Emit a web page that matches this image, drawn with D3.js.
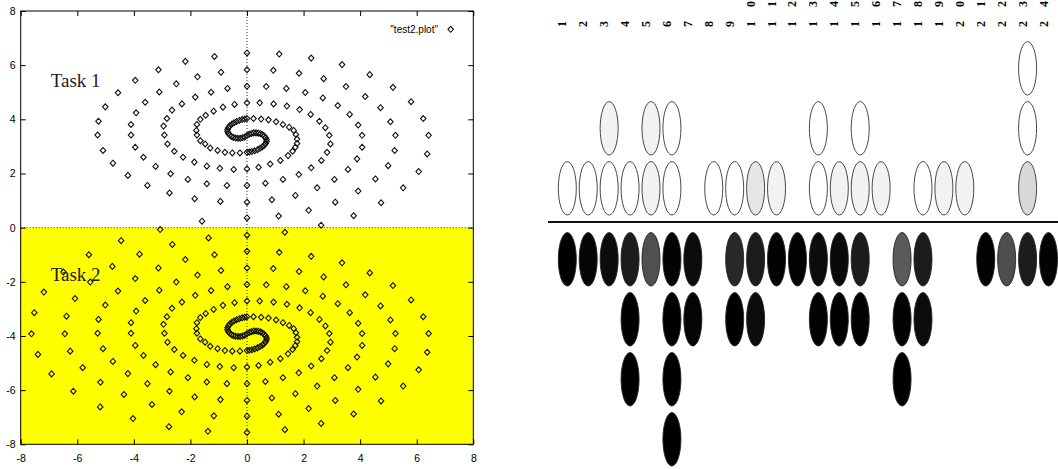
<!DOCTYPE html>
<html>
<head>
<meta charset="utf-8">
<script src="https://cdn.jsdelivr.net/npm/d3@7"></script>
<style>
  body { margin: 0; background: #fff; }
  svg { display: block; }
</style>
</head>
<body>
<script>
/* global d3 */
(function () {
  'use strict'

  // Points of the upper spiral (white half)
  var task1 = [
    [0, 3.40], [-0.08, 3.35], [-0.16, 3.32], [-0.24, 3.30], [-0.32, 3.30], [-0.40, 3.31], [-0.48, 3.33], [-0.55, 3.37], [-0.61, 3.42], [-0.66, 3.48],
    [-0.69, 3.55], [-0.69, 3.62], [-0.66, 3.69], [-0.61, 3.76], [-0.54, 3.82], [-0.46, 3.87], [-0.37, 3.92], [-0.27, 3.96], [-0.17, 3.99], [-0.08, 4.01],
    [0.08, 3.45], [0.16, 3.48], [0.24, 3.50], [0.32, 3.50], [0.40, 3.49], [0.48, 3.47], [0.55, 3.43], [0.61, 3.38], [0.66, 3.32], [0.69, 3.25],
    [0.69, 3.18], [0.66, 3.11], [0.61, 3.04], [0.54, 2.98], [0.46, 2.93], [0.37, 2.88], [0.27, 2.84], [0.17, 2.81], [0.08, 2.79],
    [0, 4.03], [0.23, 4.03], [0.50, 4.01], [0.76, 3.98], [1.03, 3.91], [1.27, 3.81], [1.49, 3.71], [1.65, 3.59], [1.73, 3.44], [1.77, 3.27],
    [1.77, 3.11], [1.71, 2.97], [1.61, 2.82], [1.45, 2.66], [1.18, 2.48], [0.82, 2.35], [0.41, 2.23], [0, 2.17], [-0.47, 2.15], [-0.96, 2.19],
    [-1.42, 2.27], [-1.86, 2.42], [-2.26, 2.60], [-2.57, 2.82], [-2.81, 3.09], [-2.92, 3.42], [-2.95, 3.75], [-2.83, 4.03], [-2.65, 4.34], [-2.30, 4.57],
    [-1.83, 4.82], [-1.27, 5.00], [-0.69, 5.14], [0, 5.22], [0.68, 5.21], [1.39, 5.14], [2.06, 4.99], [2.68, 4.79], [3.21, 4.51], [3.63, 4.18],
    [3.93, 3.79], [4.07, 3.41], [4.07, 2.97], [3.89, 2.54], [3.57, 2.15], [3.09, 1.78], [2.48, 1.47], [1.71, 1.19], [0.88, 1.03], [0, 0.94],
    [-0.94, 0.97], [-1.85, 1.07], [-2.74, 1.28], [-3.52, 1.56], [-4.21, 1.93], [-4.74, 2.38], [-5.09, 2.85], [-5.28, 3.42], [-5.25, 3.93], [-5.01, 4.46],
    [-4.56, 4.98], [-3.95, 5.44], [-3.13, 5.83], [-2.18, 6.14], [-1.15, 6.32], [0, 6.45], [1.14, 6.41], [2.27, 6.26], [3.36, 6.02], [4.34, 5.65],
    [5.16, 5.18], [5.80, 4.65], [6.23, 4.03], [6.42, 3.41], [6.37, 2.72], [6.07, 2.07], [5.52, 1.47], [4.74, 0.92], [3.77, 0.44], [2.62, 0.09],
    [0, 2.78], [-0.25, 2.76], [-0.52, 2.76], [-0.78, 2.78], [-1.04, 2.85], [-1.30, 2.94], [-1.48, 3.09], [-1.65, 3.21], [-1.77, 3.42], [-1.79, 3.59],
    [-1.77, 3.81], [-1.65, 4.00], [-1.46, 4.15], [-1.18, 4.30], [-0.85, 4.45], [-0.44, 4.55], [0, 4.61], [0.45, 4.61], [0.94, 4.57], [1.41, 4.49],
    [1.86, 4.36], [2.25, 4.18], [2.56, 3.93], [2.77, 3.69], [2.91, 3.41], [2.95, 3.09], [2.83, 2.78], [2.63, 2.48], [2.27, 2.21], [1.83, 1.96],
    [1.27, 1.78], [0.65, 1.64], [0, 1.56], [-0.71, 1.56], [-1.42, 1.62], [-2.09, 1.78], [-2.70, 1.99], [-3.23, 2.26], [-3.66, 2.60], [-3.95, 2.97],
    [-4.10, 3.42], [-4.10, 3.81], [-3.92, 4.24], [-3.60, 4.63], [-3.10, 5.01], [-2.50, 5.31], [-1.75, 5.57], [-0.92, 5.74], [0, 5.83], [0.93, 5.81],
    [1.84, 5.70], [2.71, 5.50], [3.50, 5.21], [4.18, 4.84], [4.72, 4.43], [5.07, 3.91], [5.25, 3.41], [5.22, 2.85], [4.99, 2.29], [4.54, 1.80],
    [3.93, 1.35], [3.12, 0.94], [2.18, 0.64], [1.12, 0.43], [0, 0.36]
  ]

  // Points of the lower spiral (yellow half)
  var task2 = [
    [0, -3.92], [-0.08, -3.97], [-0.16, -4.00], [-0.24, -4.02], [-0.32, -4.02], [-0.40, -4.01], [-0.48, -3.99], [-0.55, -3.95], [-0.61, -3.90], [-0.66, -3.84],
    [-0.69, -3.77], [-0.69, -3.70], [-0.66, -3.63], [-0.61, -3.56], [-0.54, -3.50], [-0.46, -3.45], [-0.37, -3.40], [-0.27, -3.36], [-0.17, -3.33], [-0.08, -3.31],
    [0.08, -3.87], [0.16, -3.84], [0.24, -3.82], [0.32, -3.82], [0.40, -3.83], [0.48, -3.85], [0.55, -3.89], [0.61, -3.94], [0.66, -4.00], [0.69, -4.07],
    [0.69, -4.14], [0.66, -4.21], [0.61, -4.28], [0.54, -4.34], [0.46, -4.39], [0.37, -4.44], [0.27, -4.48], [0.17, -4.51], [0.08, -4.53],
    [0, -3.29], [0.23, -3.29], [0.50, -3.31], [0.76, -3.34], [1.03, -3.41], [1.27, -3.51], [1.49, -3.61], [1.65, -3.73], [1.73, -3.88], [1.77, -4.05],
    [1.77, -4.21], [1.71, -4.35], [1.61, -4.50], [1.45, -4.66], [1.18, -4.84], [0.82, -4.97], [0.41, -5.09], [0, -5.15], [-0.47, -5.17], [-0.96, -5.13],
    [-1.42, -5.05], [-1.86, -4.90], [-2.26, -4.72], [-2.57, -4.50], [-2.81, -4.23], [-2.92, -3.90], [-2.95, -3.57], [-2.83, -3.29], [-2.65, -2.98], [-2.30, -2.75],
    [-1.83, -2.50], [-1.27, -2.32], [-0.69, -2.18], [0, -2.10], [0.68, -2.11], [1.39, -2.18], [2.06, -2.33], [2.68, -2.53], [3.21, -2.81], [3.63, -3.14],
    [3.93, -3.53], [4.07, -3.91], [4.07, -4.35], [3.89, -4.78], [3.57, -5.17], [3.09, -5.54], [2.48, -5.85], [1.71, -6.13], [0.88, -6.29], [0, -6.38],
    [-0.94, -6.35], [-1.85, -6.25], [-2.74, -6.04], [-3.52, -5.76], [-4.21, -5.39], [-4.74, -4.94], [-5.09, -4.47], [-5.28, -3.90], [-5.25, -3.39], [-5.01, -2.86],
    [-4.56, -2.34], [-3.95, -1.88], [-3.13, -1.49], [-2.18, -1.18], [-1.15, -1.00], [0, -0.87], [1.14, -0.91], [2.27, -1.06], [3.36, -1.30], [4.34, -1.67],
    [5.16, -2.14], [5.80, -2.67], [6.23, -3.29], [6.42, -3.91], [6.37, -4.60], [6.07, -5.25], [5.52, -5.85], [4.74, -6.40], [3.77, -6.88], [2.62, -7.23],
    [1.34, -7.46], [0, -7.56], [-1.38, -7.52], [-2.76, -7.35], [-4.03, -7.05], [-5.19, -6.62], [-6.14, -6.04], [-6.91, -5.40], [-7.39, -4.68], [-7.62, -3.92],
    [-7.52, -3.14], [-7.18, -2.38], [-6.49, -1.64], [-5.59, -1.00], [-4.45, -0.48], [-3.07, -0.07], [-1.59, 0.24],
    [0, -4.54], [-0.25, -4.56], [-0.52, -4.56], [-0.78, -4.54], [-1.04, -4.47], [-1.30, -4.38], [-1.48, -4.23], [-1.65, -4.11], [-1.77, -3.90], [-1.79, -3.73],
    [-1.77, -3.51], [-1.65, -3.32], [-1.46, -3.17], [-1.18, -3.02], [-0.85, -2.87], [-0.44, -2.77], [0, -2.71], [0.45, -2.71], [0.94, -2.75], [1.41, -2.83],
    [1.86, -2.96], [2.25, -3.14], [2.56, -3.39], [2.77, -3.63], [2.91, -3.91], [2.95, -4.23], [2.83, -4.54], [2.63, -4.84], [2.27, -5.11], [1.83, -5.36],
    [1.27, -5.54], [0.65, -5.68], [0, -5.76], [-0.71, -5.76], [-1.42, -5.70], [-2.09, -5.54], [-2.70, -5.33], [-3.23, -5.06], [-3.66, -4.72], [-3.95, -4.35],
    [-4.10, -3.90], [-4.10, -3.51], [-3.92, -3.08], [-3.60, -2.69], [-3.10, -2.31], [-2.50, -2.01], [-1.75, -1.75], [-0.92, -1.58], [0, -1.49], [0.93, -1.51],
    [1.84, -1.62], [2.71, -1.82], [3.50, -2.11], [4.18, -2.48], [4.72, -2.89], [5.07, -3.41], [5.25, -3.91], [5.22, -4.47], [4.99, -5.03], [4.54, -5.52],
    [3.93, -5.97], [3.12, -6.38], [2.18, -6.68], [1.12, -6.89], [0, -6.96],
    [-1.17, -6.95], [-2.31, -6.80], [-3.36, -6.53], [-4.35, -6.16], [-5.18, -5.71], [-5.81, -5.17], [-6.25, -4.56], [-6.44, -3.92], [-6.38, -3.27], [-6.08, -2.62],
    [-5.54, -2.01], [-4.76, -1.43], [-3.80, -0.98], [-2.64, -0.62], [-1.36, -0.38], [0, -0.28], [1.34, -0.17]
  ]

  var xTicks = [-8, -6, -4, -2, 0, 2, 4, 6, 8]
  var yTicks = [-8, -6, -4, -2, 0, 2, 4, 6, 8]
  var legendLabel = '"test2.plot"'
  var taskNames = ['Task 1', 'Task 2']

  // Right panel: column labels and cells [column, level, grey 0-255]
  var columnLabels = ['1', '2', '3', '4', '5', '6', '7', '8', '9', '10', '11', '12',
    '13', '14', '15', '16', '17', '18', '19', '20', '21', '22', '23', '24']
  var upperCells = [
    [1, 1, 255], [2, 1, 255], [3, 1, 255], [4, 1, 255], [5, 1, 242], [6, 1, 255],
    [8, 1, 255], [9, 1, 255], [10, 1, 229], [11, 1, 242],
    [13, 1, 255], [14, 1, 242], [15, 1, 242], [16, 1, 242],
    [18, 1, 255], [19, 1, 242], [20, 1, 242], [23, 1, 216],
    [3, 2, 242], [5, 2, 242], [6, 2, 255], [13, 2, 255], [15, 2, 255], [23, 2, 255],
    [23, 3, 255]
  ]
  var lowerCells = [
    [1, 1, 0], [2, 1, 5], [3, 1, 12], [4, 1, 28], [5, 1, 80], [6, 1, 3], [7, 1, 12],
    [9, 1, 40], [10, 1, 28], [11, 1, 3], [12, 1, 2], [13, 1, 12], [14, 1, 10], [15, 1, 28],
    [17, 1, 90], [18, 1, 28], [21, 1, 3], [22, 1, 78], [23, 1, 28], [24, 1, 3],
    [4, 2, 0], [6, 2, 0], [7, 2, 5], [9, 2, 0], [10, 2, 12], [13, 2, 2], [14, 2, 0], [15, 2, 2],
    [17, 2, 3], [18, 2, 12],
    [4, 3, 0], [6, 3, 0], [17, 3, 0],
    [6, 4, 0]
  ]

  var w = 1058
  var h = 469

  var svg = d3.select('body').append('svg')
    .attr('width', w)
    .attr('height', h)

  svg.append('rect').attr('width', w).attr('height', h).attr('fill', '#fff')

  // ---------- left plot ----------
  var x = d3.scaleLinear().domain([-8, 8]).range([20.7, 473.3])
  var y = d3.scaleLinear().domain([-8, 8]).range([444.3, 11])

  // yellow lower half
  svg.append('rect')
    .attr('x', x(-8))
    .attr('y', y(0))
    .attr('width', x(8) - x(-8))
    .attr('height', y(-8) - y(0))
    .attr('fill', '#ffff00')

  // zero axes, dotted
  svg.append('line')
    .attr('x1', x(-8)).attr('x2', x(8))
    .attr('y1', y(0)).attr('y2', y(0))
    .attr('stroke', '#333').attr('stroke-width', 1).attr('stroke-dasharray', '1,2')
  svg.append('line')
    .attr('x1', x(0)).attr('x2', x(0))
    .attr('y1', y(8)).attr('y2', y(-8))
    .attr('stroke', '#333').attr('stroke-width', 1).attr('stroke-dasharray', '1,2')

  function fmt (d) { return String(d) }

  function styleAxis (g) {
    g.select('.domain').remove()
    g.attr('font-family', '"Liberation Sans", Arial, sans-serif')
      .attr('font-size', 10.5)
    g.selectAll('line').attr('stroke', '#000')
    g.selectAll('text').attr('fill', '#000')
  }

  svg.append('g')
    .attr('transform', 'translate(' + x(-8) + ',0)')
    .call(d3.axisLeft(y).tickValues(yTicks).tickSize(-5).tickPadding(5).tickFormat(fmt))
    .call(styleAxis)
  svg.append('g')
    .attr('transform', 'translate(' + x(8) + ',0)')
    .call(d3.axisRight(y).tickValues(yTicks).tickSize(-5).tickFormat(''))
    .call(styleAxis)
  svg.append('g')
    .attr('transform', 'translate(0,' + y(-8) + ')')
    .call(d3.axisBottom(x).tickValues(xTicks).tickSize(-5).tickPadding(10).tickFormat(fmt))
    .call(styleAxis)
  svg.append('g')
    .attr('transform', 'translate(0,' + y(8) + ')')
    .call(d3.axisTop(x).tickValues(xTicks).tickSize(-5).tickFormat(''))
    .call(styleAxis)

  // frame
  svg.append('rect')
    .attr('x', x(-8))
    .attr('y', y(8))
    .attr('width', x(8) - x(-8))
    .attr('height', y(-8) - y(8))
    .attr('fill', 'none')
    .attr('stroke', '#000')
    .attr('stroke-width', 1)

  // gnuplot style diamond: a square turned by 45 degrees
  var diamondType = {
    draw: function (ctx, size) {
      var r = Math.sqrt(size / 2)
      ctx.moveTo(0, -r * 1.08)
      ctx.lineTo(r, 0)
      ctx.lineTo(0, r * 1.08)
      ctx.lineTo(-r, 0)
      ctx.closePath()
    }
  }
  var diamond = d3.symbol().type(diamondType).size(15)

  function drawPoints (data, cls) {
    svg.append('g').attr('class', cls)
      .selectAll('path')
      .data(data)
      .enter().append('path')
        .attr('d', diamond)
        .attr('transform', function (d) {
          return 'translate(' + x(d[0]) + ',' + y(d[1]) + ')'
        })
        .attr('fill', 'none')
        .attr('stroke', '#111')
        .attr('stroke-width', 1.1)
  }
  drawPoints(task1, 'task1')
  drawPoints(task2, 'task2')

  // legend
  svg.append('text')
    .attr('x', 438)
    .attr('y', 33)
    .attr('text-anchor', 'end')
    .attr('font-family', '"Liberation Sans", Arial, sans-serif')
    .attr('font-size', 10)
    .text(legendLabel)
  svg.append('path')
    .attr('d', diamond)
    .attr('transform', 'translate(450.7,29.3)')
    .attr('fill', 'none')
    .attr('stroke', '#111')
    .attr('stroke-width', 1.1)

  // task names
  svg.selectAll('.task-name')
    .data(taskNames)
    .enter().append('text')
      .attr('class', 'task-name')
      .attr('x', 50.7)
      .attr('y', function (d, i) { return i === 0 ? 87.3 : 281 })
      .attr('font-family', '"Liberation Serif", "Times New Roman", serif')
      .attr('font-size', 19)
      .attr('fill', '#1a1a1a')
      .text(function (d) { return d })

  // ---------- right panel ----------
  var col = d3.scaleLinear().domain([1, 24]).range([567.3, 1048.5])
  var upY = d3.scaleLinear().domain([1, 3]).range([188.3, 68.3])
  var lowY = d3.scaleLinear().domain([1, 4]).range([259.3, 439.3])
  var rx = 9
  var ry = 26.7

  // column labels, rotated, one glyph per step upward
  var labelG = svg.append('g')
    .attr('font-family', '"Liberation Serif", "Times New Roman", serif')
    .attr('font-weight', 'bold')
    .attr('font-size', 12)
  columnLabels.forEach(function (lab, i) {
    lab.split('').forEach(function (ch, j) {
      labelG.append('text')
        .attr('transform', 'translate(' + (col(i + 1) - 1) + ',' + (27 - j * 20) + ') rotate(-90)')
        .text(ch)
    })
  })

  // divider
  svg.append('line')
    .attr('x1', 548).attr('x2', w)
    .attr('y1', 222).attr('y2', 222)
    .attr('stroke', '#111')
    .attr('stroke-width', 2)

  function grey (v) { return d3.rgb(v, v, v).toString() }

  svg.append('g').selectAll('ellipse')
    .data(upperCells)
    .enter().append('ellipse')
      .attr('cx', function (d) { return col(d[0]) })
      .attr('cy', function (d) { return upY(d[1]) })
      .attr('rx', rx)
      .attr('ry', ry)
      .attr('fill', function (d) { return grey(d[2]) })
      .attr('stroke', '#333')
      .attr('stroke-width', 0.9)

  svg.append('g').selectAll('ellipse')
    .data(lowerCells)
    .enter().append('ellipse')
      .attr('cx', function (d) { return col(d[0]) })
      .attr('cy', function (d) { return lowY(d[1]) })
      .attr('rx', rx)
      .attr('ry', ry)
      .attr('fill', function (d) { return grey(d[2]) })
      .attr('stroke', '#222')
      .attr('stroke-width', 0.9)
}())
</script>
</body>
</html>
